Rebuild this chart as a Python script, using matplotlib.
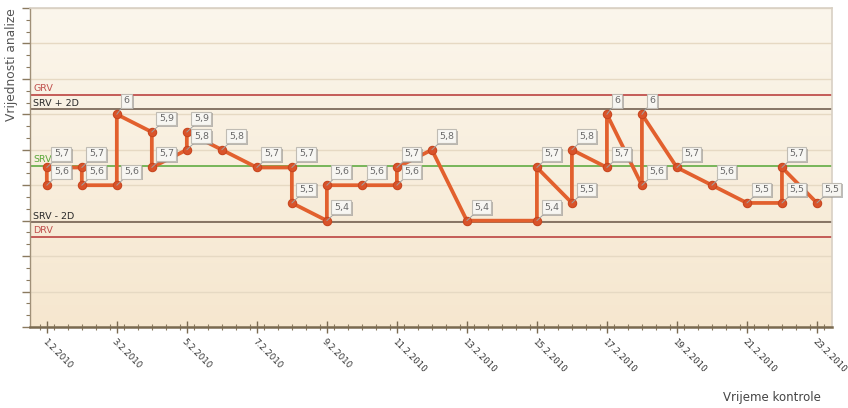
import numpy as np
import matplotlib
matplotlib.use("Agg")
import matplotlib.pyplot as plt
from matplotlib import patheffects
from matplotlib.ticker import MultipleLocator
from matplotlib.colors import LinearSegmentedColormap

# ---- data ----
days = [1, 1, 2, 2, 3, 3, 4, 4, 5, 5, 6, 7, 8, 8, 9, 9, 10, 11, 11, 12, 13,
        15, 15, 16, 16, 17, 17, 18, 18, 19, 20, 21, 22, 22, 23]
values = [5.6, 5.7, 5.7, 5.6, 5.6, 6.0, 5.9, 5.7, 5.8, 5.9, 5.8, 5.7, 5.7, 5.5,
          5.4, 5.6, 5.6, 5.6, 5.7, 5.8, 5.4, 5.4, 5.7, 5.5, 5.8, 5.7, 6.0, 5.6,
          6.0, 5.7, 5.6, 5.5, 5.5, 5.7, 5.5]
tick_days = [1, 3, 5, 7, 9, 11, 13, 15, 17, 19, 21, 23]
tick_labels = ["1.2.2010", "3.2.2010", "5.2.2010", "7.2.2010", "9.2.2010",
               "11.2.2010", "13.2.2010", "15.2.2010", "17.2.2010",
               "19.2.2010", "21.2.2010", "23.2.2010"]
ref_names = ["GRV", "SRV + 2D", "SRV", "SRV - 2D", "DRV"]
ref_values = [6.11, 6.03, 5.71, 5.39, 5.31]
ref_colors = ["#c0504d", "#7d6b5c", "#6db04f", "#7d6b5c", "#c0504d"]
ref_text_colors = ["#c0504d", "#2a2a2a", "#5aa83a", "#2a2a2a", "#c0504d"]

fig = plt.figure(figsize=(8.48, 4.08), dpi=100)
fig.patch.set_facecolor("white")
ax = fig.add_axes([30 / 848, 1 - 327 / 408, (832 - 30) / 848, (327 - 8) / 408])
ax.set_xlim(0.52, 23.43)
ax.set_ylim(4.8, 6.6)

# background gradient
grad = np.linspace(0, 1, 256).reshape(-1, 1)
cmap = LinearSegmentedColormap.from_list("bg", ["#f6e7cf", "#fbf6ec"])
ax.imshow(grad, extent=[0, 1, 0, 1], transform=ax.transAxes, aspect="auto",
          cmap=cmap, origin="lower", zorder=0)

# grid / ticks
ax.yaxis.set_major_locator(MultipleLocator(0.2))
ax.yaxis.set_minor_locator(MultipleLocator(0.2 / 3))
ax.xaxis.set_major_locator(matplotlib.ticker.FixedLocator(tick_days))
ax.xaxis.set_minor_locator(MultipleLocator(0.4))
ax.grid(axis="y", which="major", color="#e6d9c3", lw=1.0, zorder=1)
ax.set_axisbelow(True)

ax.set_xticks(tick_days)
ax.set_xticklabels(tick_labels, rotation=-45, ha="left", va="top",
                   rotation_mode="anchor", fontsize=6.2, color="#333333")
ax.set_yticklabels([])
ax.tick_params(axis="x", which="major", direction="inout", length=9,
               width=1.0, color="#7a6a50", pad=3)
ax.tick_params(axis="x", which="minor", direction="inout", length=5,
               width=0.8, color="#8a7a60")
ax.tick_params(axis="y", which="major", direction="out", length=6,
               width=1.0, color="#8a7a60")
ax.tick_params(axis="y", which="minor", direction="out", length=3,
               width=0.8, color="#8a7a60")

for side in ["top", "right"]:
    ax.spines[side].set_color("#d8d0c4")
    ax.spines[side].set_linewidth(1.2)
ax.spines["left"].set_color("#a09078")
ax.spines["left"].set_linewidth(1.0)
ax.spines["bottom"].set_color("#7a6a50")
ax.spines["bottom"].set_linewidth(1.8)

# reference lines
for name, v, c, tc in zip(ref_names, ref_values, ref_colors, ref_text_colors):
    ax.axhline(v, color=c, lw=1.3, zorder=2)
    ax.annotate(name, xy=(0, v), xycoords=("axes fraction", "data"),
                xytext=(3, 1.5), textcoords="offset pixels", ha="left",
                va="bottom", fontsize=6.8, color=tc, zorder=3)

# data line
ax.plot(days, values, color="#e2602e", lw=2.7, zorder=4,
        solid_joinstyle="round")
ax.plot(days, values, ls="none", marker="o", ms=6, mfc="#d9532a",
        mec="#c8461f", mew=0.8, zorder=5)

# value labels
for d, v in zip(days, values):
    s = ("%g" % v).replace(".", ",")
    t = ax.annotate(s, xy=(d, v), xytext=(7, 9), textcoords="offset pixels",
                    ha="left", va="bottom", fontsize=6.8, color="#6a6a6a",
                    zorder=6,
                    bbox=dict(boxstyle="square,pad=0.25", fc="#f7f6f2",
                              ec="#c0bcb4", lw=0.8),
                    arrowprops=dict(arrowstyle="-", color="#a0a0a0", lw=0.7,
                                    shrinkA=0, shrinkB=0))
    t.get_bbox_patch().set_path_effects([
        patheffects.withSimplePatchShadow(offset=(1.2, -1.2),
                                          shadow_rgbFace="#909090", alpha=0.6)])

fig.text(12 / 848, 1 - 65 / 408, "Vrijednosti analize", rotation=90,
         ha="center", va="center", fontsize=8.8, color="#555555")
fig.text(772 / 848, 1 - 398 / 408, "Vrijeme kontrole", ha="center",
         va="center", fontsize=8.5, color="#444444")

fig.savefig("out.png", dpi=100)
